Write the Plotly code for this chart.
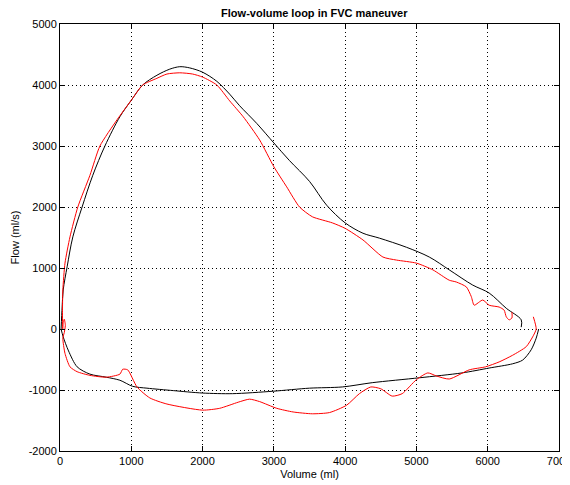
import plotly.graph_objects as go

# Black curve - expiration (volume ml, flow ml/s)
black_exp_vol = [15, 30, 45, 100, 180, 310, 460, 630, 840, 1000, 1160, 1360, 1540, 1680, 1820,
                 2000, 2200, 2380, 2520, 2760, 3000, 3220, 3500, 3740, 4000, 4250, 4480, 4860,
                 5180, 5460, 5790, 6020, 6260, 6470, 6470]
black_exp_flow = [0, 360, 640, 1020, 1510, 2000, 2520, 3000, 3480, 3750, 4000, 4160, 4260, 4300, 4280,
                  4210, 4060, 3850, 3660, 3370, 3050, 2760, 2420, 2030, 1740, 1570, 1490, 1340,
                  1180, 970, 720, 590, 340, 150, 30]

# Black curve - inspiration
black_insp_vol = [6715, 6680, 6610, 6490, 6350, 6020, 5640, 5040, 4380, 3960, 3500, 2990, 2420,
                  2000, 1590, 1220, 1020, 840, 650, 420, 240, 120, 45, 15]
black_insp_flow = [0, -150, -340, -510, -570, -640, -720, -800, -880, -950, -970, -1020, -1060,
                   -1050, -1010, -970, -940, -840, -790, -740, -620, -360, -130, 0]

# Red curve - expiration
red_exp_vol = [60, 75, 60, 45, 38, 35, 40, 70, 140, 250, 420, 560, 800, 1000, 1160, 1360, 1500,
               1680, 1860, 2000, 2200, 2380, 2570, 2800, 3000, 3180, 3360, 3540, 3820, 4000, 4250,
               4530, 4720, 5000, 5230, 5460, 5560, 5700, 5770, 5810, 5930, 6020, 6160, 6230, 6260,
               6300, 6340, 6340]
red_exp_flow = [-60, 60, 160, 110, 0, 300, 640, 1080, 1510, 2000, 2520, 3000, 3430, 3750, 4000,
                4110, 4180, 4200, 4180, 4130, 4000, 3740, 3480, 3100, 2660, 2330, 2000, 1840, 1740,
                1650, 1460, 1180, 1130, 1080, 970, 800, 770, 690, 530, 390, 475, 390, 360, 310, 200,
                150, 180, 280]

# Red curve - inspiration
red_insp_vol = [6640, 6680, 6630, 6540, 6350, 6160, 5970, 5740, 5460, 5280, 5160, 5000, 4800,
                4660, 4500, 4360, 4200, 4020, 3780, 3540, 3270, 3040, 2800, 2660, 2500, 2240, 2000,
                1500, 1260, 1080, 950, 880, 840, 650, 420, 240, 140, 70, 40, 60]
red_insp_flow = [200, 0, -130, -290, -430, -540, -620, -670, -820, -770, -720, -830, -1060,
                 -1100, -980, -950, -1060, -1250, -1370, -1390, -1360, -1300, -1190, -1150, -1200,
                 -1300, -1330, -1230, -1130, -950, -670, -660, -740, -790, -760, -700, -620, -400,
                 -150, -60]

x_ticks = [0, 1000, 2000, 3000, 4000, 5000, 6000, 7000]
y_ticks = [-2000, -1000, 0, 1000, 2000, 3000, 4000, 5000]

FONT = "Liberation Sans, Arial, sans-serif"

fig = go.Figure()
for vx, fy, col, sm in [(black_exp_vol, black_exp_flow, "black", 0.9),
                        (black_insp_vol, black_insp_flow, "black", 0.8),
                        (red_exp_vol, red_exp_flow, "red", 0.6),
                        (red_insp_vol, red_insp_flow, "red", 0.6)]:
    fig.add_trace(go.Scatter(x=vx, y=fy, mode="lines",
                             line=dict(color=col, width=1, shape="spline", smoothing=sm),
                             showlegend=False, hoverinfo="skip"))

axis_common = dict(
    showline=True, linecolor="black", linewidth=1, mirror="ticks",
    ticks="inside", ticklen=5, tickcolor="black",
    showgrid=True, gridcolor="black", griddash="1px,3px", gridwidth=1,
    zeroline=False, automargin=False, ticklabeloverflow="allow",
    tickfont=dict(family=FONT, size=11, color="black"),
)

fig.update_xaxes(range=[0, 7000], tickvals=x_ticks, ticktext=[str(v) for v in x_ticks],
                 title=dict(text="Volume (ml)", standoff=4,
                            font=dict(family=FONT, size=11, color="black")),
                 **axis_common)
fig.update_yaxes(range=[-2000, 5000], tickvals=y_ticks, ticktext=[str(v) for v in y_ticks],
                 title=dict(text="Flow (ml/s)", standoff=6,
                            font=dict(family=FONT, size=11, color="black")),
                 **axis_common)

fig.update_layout(
    width=562, height=477,
    margin=dict(l=52, r=11, t=16, b=34, autoexpand=False),
    paper_bgcolor="white", plot_bgcolor="white",
    title=dict(text="<b>Flow-volume loop in FVC maneuver</b>", x=0.545, xanchor="center",
               y=0.989, yanchor="middle", yref="container", automargin=False,
               font=dict(family=FONT, size=11, color="black")),
)

fig.write_html("out.html")
